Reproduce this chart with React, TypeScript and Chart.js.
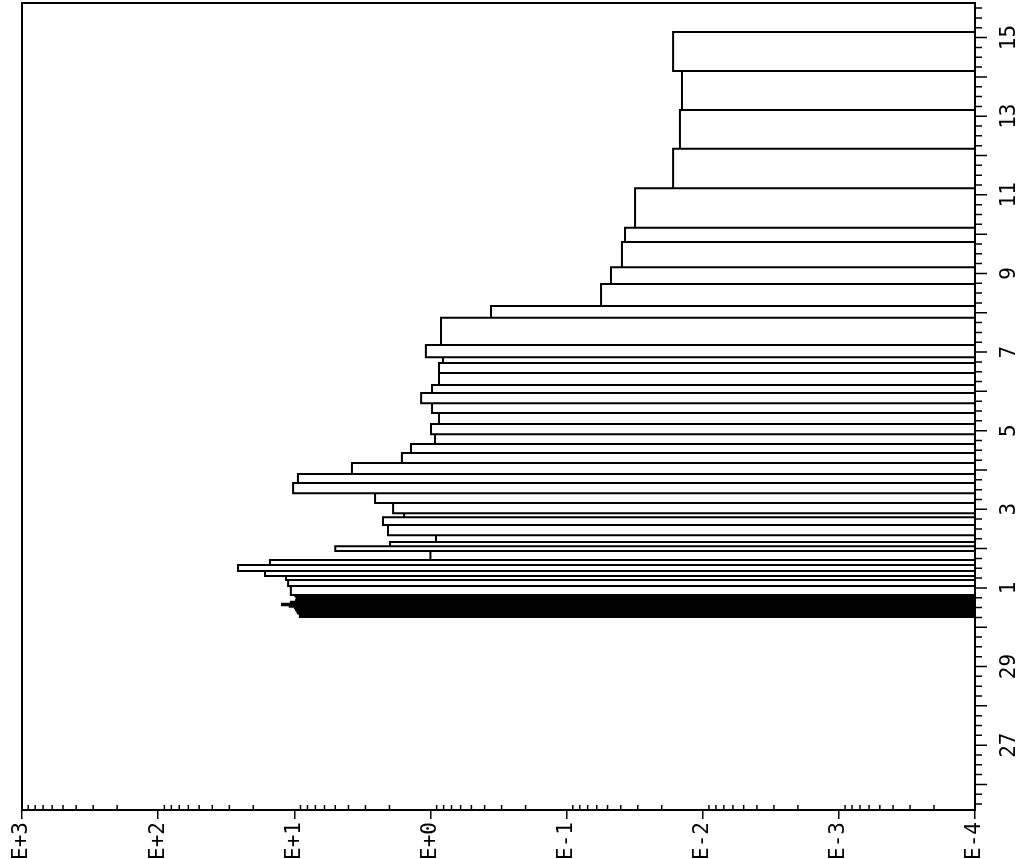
import React, { useEffect, useRef } from 'react';
import { Chart, registerables } from 'chart.js';

Chart.register(...registerables);

// Time in days, 0 = 27 April (label "27"), 4 = 1 May, 18 = 15 May
const binStart = [
  3.26, 3.30, 3.35, 3.39, 3.43, 3.48, 3.52, 3.56, 3.60, 3.65, 3.69, 3.73, 3.78,
  3.82, 4.05, 4.20, 4.30, 4.43, 4.58, 4.71, 4.94, 5.06, 5.17, 5.34, 5.60, 5.80,
  5.90, 6.16, 6.41, 6.67, 6.90, 7.18, 7.43, 7.66, 7.91, 8.17, 8.45, 8.70, 8.96,
  9.16, 9.47, 9.72, 9.87, 10.18, 10.87, 11.17, 11.73, 12.16, 12.80, 13.16, 14.17,
  15.17, 16.16, 17.15,
];
const binEnd = [
  3.30, 3.35, 3.39, 3.43, 3.48, 3.52, 3.56, 3.60, 3.65, 3.69, 3.73, 3.78, 3.82,
  4.05, 4.20, 4.30, 4.43, 4.58, 4.71, 4.94, 5.06, 5.17, 5.34, 5.60, 5.80, 5.90,
  6.16, 6.41, 6.67, 6.90, 7.18, 7.43, 7.66, 7.91, 8.17, 8.45, 8.70, 8.96, 9.16,
  9.47, 9.72, 9.87, 10.18, 10.87, 11.17, 11.73, 12.16, 12.80, 13.16, 14.17, 15.17,
  16.16, 17.15, 18.14,
];
const activity = [
  9.1, 9.1, 9.4, 9.5, 9.7, 9.9, 10.8, 12.3, 10.6, 9.7, 9.6, 9.6, 9.8,
  10.6, 11.1, 11.5, 16.4, 25.9, 15.1, 1.0, 5.0, 1.98, 0.91, 2.05, 2.23, 1.56,
  1.88, 2.55, 10.2, 9.4, 3.77, 1.62, 1.39, 0.925, 0.99, 0.865, 0.973, 1.17, 0.973,
  0.865, 0.865, 0.809, 1.08, 0.836, 0.359, 0.0558, 0.0472, 0.0392, 0.0372, 0.0314, 0.0165,
  0.0147, 0.0142, 0.0165,
];

const decadeValues = [1e-4, 1e-3, 1e-2, 1e-1, 1, 1e1, 1e2, 1e3];
const decadeLabels = ['E-4', 'E-3', 'E-2', 'E-1', 'E+0', 'E+1', 'E+2', 'E+3'];
const dayPositions = [0, 2, 4, 6, 8, 10, 12, 14, 16, 18];
const dayLabels = ['27', '29', '1', '3', '5', '7', '9', '11', '13', '15'];

const BAR_BASE = 1e-4;
const X_MIN = 1e-4;
const X_MAX = 1e3;
const Y_MIN = -1.65;
const Y_MAX = 18.88;

const FONT_FAMILY = '"DejaVu Sans Mono", monospace';

const axisDecor = {
  id: 'axisDecor',
  afterDraw(chart: any) {
    const { ctx, chartArea: a, scales } = chart;
    const xs = scales.x;
    const ys = scales.y;
    ctx.save();
    ctx.strokeStyle = '#000';
    ctx.fillStyle = '#000';
    ctx.lineWidth = 2;
    // left and top frame
    ctx.beginPath();
    ctx.moveTo(a.left, a.bottom);
    ctx.lineTo(a.left, a.top);
    ctx.lineTo(a.right, a.top);
    ctx.stroke();
    ctx.lineWidth = 1.5;
    // minor log ticks (inside) on bottom axis
    ctx.beginPath();
    for (let i = 0; i < decadeValues.length - 1; i++) {
      for (let m = 2; m <= 9; m++) {
        const px = xs.getPixelForValue(decadeValues[i] * m);
        ctx.moveTo(px, a.bottom);
        ctx.lineTo(px, a.bottom - 5);
      }
    }
    // right axis ticks every 6 hours, long ones each day
    for (let k = Math.ceil(Y_MIN * 4); k <= Math.floor(Y_MAX * 4); k++) {
      const py = ys.getPixelForValue(k / 4);
      const len = k % 4 === 0 ? 12 : 7;
      ctx.moveTo(a.right, py);
      ctx.lineTo(a.right + len, py);
    }
    ctx.stroke();
    // rotated day labels
    ctx.font = `21px ${FONT_FAMILY}`;
    ctx.textAlign = 'center';
    ctx.textBaseline = 'middle';
    dayPositions.forEach((t, i) => {
      const py = ys.getPixelForValue(t);
      ctx.save();
      ctx.translate(a.right + 35, py);
      ctx.rotate(-Math.PI / 2);
      ctx.fillText(dayLabels[i], 0, 0);
      ctx.restore();
    });
    ctx.restore();
  },
};

export default function App() {
  const ref = useRef<HTMLCanvasElement>(null);

  useEffect(() => {
    const canvas = ref.current;
    if (!canvas) return;
    const outline: { x: number; y: number | null }[] = [];
    activity.forEach((v, i) => {
      outline.push(
        { x: BAR_BASE, y: binStart[i] },
        { x: v, y: binStart[i] },
        { x: v, y: binEnd[i] },
        { x: BAR_BASE, y: binEnd[i] },
        { x: BAR_BASE, y: null },
      );
    });

    const chart = new Chart(canvas, {
      type: 'line',
      data: {
        datasets: [
          {
            label: 'I-131',
            data: outline as any,
            borderColor: '#000',
            borderWidth: 2,
            pointRadius: 0,
            pointHoverRadius: 0,
            fill: false,
            spanGaps: false,
            tension: 0,
            borderJoinStyle: 'miter',
          },
        ],
      },
      options: {
        responsive: false,
        animation: false,
        devicePixelRatio: 1,
        events: [],
        layout: { padding: { left: 22, top: 3, right: 0, bottom: 0 } },
        plugins: { legend: { display: false }, tooltip: { enabled: false } },
        scales: {
          x: {
            type: 'logarithmic',
            reverse: true,
            min: X_MIN,
            max: X_MAX,
            position: 'bottom',
            afterBuildTicks: (s: any) => {
              s.ticks = decadeValues.map((v) => ({ value: v }));
            },
            afterFit: (s: any) => {
              s.height = 49;
              s.paddingLeft = 0;
              s.paddingRight = 0;
            },
            ticks: {
              autoSkip: false,
              minRotation: 90,
              maxRotation: 90,
              padding: 3,
              color: '#000',
              font: { family: FONT_FAMILY, size: 21 },
              callback: (v: any) => {
                const idx = decadeValues.indexOf(Number(v));
                return idx >= 0 ? decadeLabels[idx] : '';
              },
            },
            grid: {
              display: true,
              drawOnChartArea: false,
              drawTicks: true,
              tickLength: 9,
              color: '#000',
              lineWidth: 1.5,
            },
            border: { display: true, color: '#000', width: 2 },
          },
          y: {
            type: 'linear',
            position: 'right',
            min: Y_MIN,
            max: Y_MAX,
            afterFit: (s: any) => {
              s.width = 48;
              s.paddingTop = 0;
              s.paddingBottom = 0;
            },
            ticks: { display: false },
            grid: { display: true, drawOnChartArea: false, drawTicks: false, color: '#000' },
            border: { display: true, color: '#000', width: 2 },
          },
        },
      } as any,
      plugins: [axisDecor],
    });
    return () => chart.destroy();
  }, []);

  return (
    <div style={{ position: 'absolute', left: 0, top: 0, width: 1023, height: 859, background: '#fff' }}>
      <canvas ref={ref} width={1023} height={859} style={{ display: 'block' }} />
    </div>
  );
}
